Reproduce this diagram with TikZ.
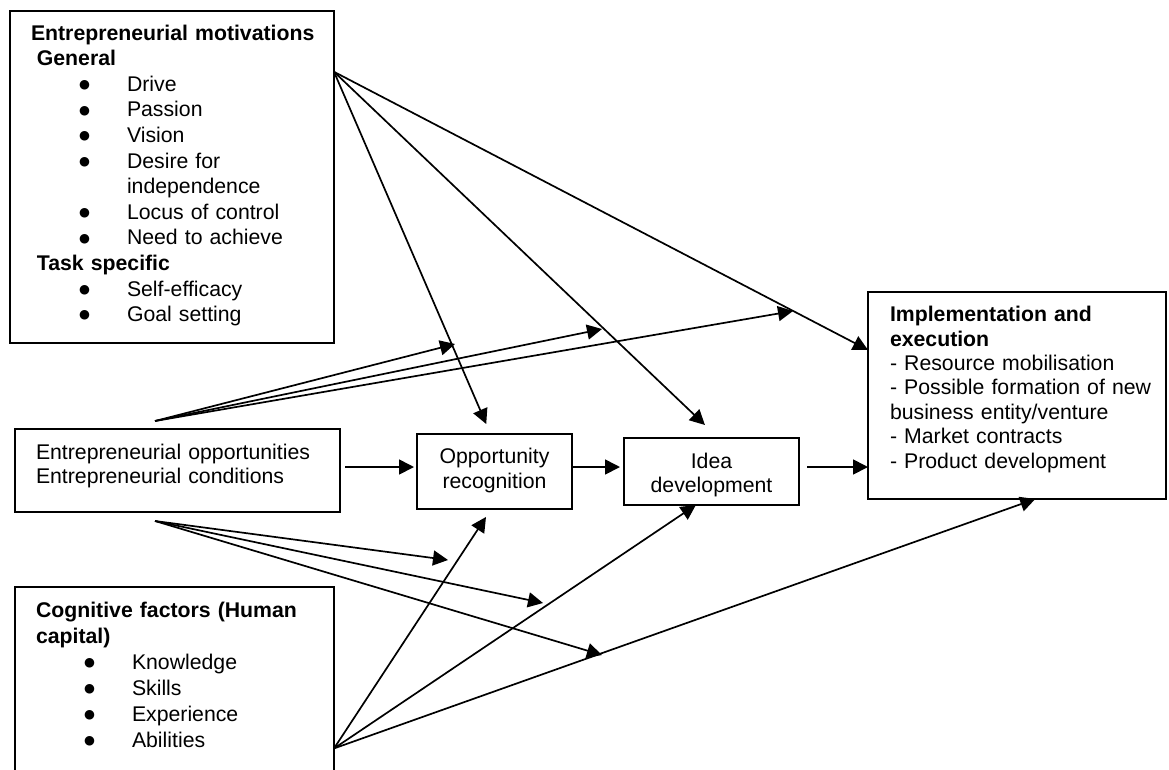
\documentclass[tikz,border=0pt]{standalone}
\usepackage{fontspec}
\setmainfont{Liberation Sans}
\newfontfamily\dotfont{DejaVu Sans}
\usetikzlibrary{arrows.meta}
\newcommand{\itm}[1]{\hspace*{48pt}\makebox[48pt][l]{\raisebox{2.8pt}{\dotfont\fontsize{12.5}{12.5}\selectfont ●}}#1}
\begin{document}
\begin{tikzpicture}[x=1pt,y=-1pt]
        \tikzstyle{every node}+=[inner sep=0pt, outer sep=0pt]
        \tikzstyle{box}=[draw=black, line width=2.2pt, anchor=north west, align=left, inner xsep=21pt, font=\fontsize{21.25}{25.6}\selectfont]
        \tikzstyle{cbox}=[box, align=center, inner xsep=0pt]
        \tikzstyle{arr}=[black, line width=1.7pt, -{Triangle[length=15pt,width=15pt]}]
        \useasboundingbox (0,0) rectangle (1169,769);
        \clip (0,0) rectangle (1169,769);
        % boxes
        \node [box, text width=282pt, text height=29pt, text depth=303pt] (mot) at (10,11) {\mbox{\textbf{Entrepreneurial motivations}}\\
          \hspace*{5.9pt}\textbf{General}\\
          \itm{Drive}\\
          \itm{Passion}\\
          \itm{Vision}\\
          \itm{Desire for}\\
          \hspace*{96pt}independence\\
          \itm{Locus of control}\\
          \itm{Need to achieve}\\
          \hspace*{5.9pt}\textbf{Task specific}\\
          \itm{Self-efficacy}\\
          \itm{Goal setting}};
        \node [box, text width=283pt, text height=30pt, text depth=53pt, font=\fontsize{21.25}{24}\selectfont] (opp) at (15,429) {Entrepreneurial opportunities\\Entrepreneurial conditions};
        \node [box, text width=277pt, text height=30pt, text depth=183pt, font=\fontsize{21.25}{26}\selectfont] (cog) at (15,587) {\makebox[\linewidth][s]{\textbf{Cognitive factors (Human}}\\
          \textbf{capital)}\\
          \itm{Knowledge}\\
          \itm{Skills}\\
          \itm{Experience}\\
          \itm{Abilities}};
        \node [cbox, text width=155pt, text height=29pt, text depth=46pt, font=\fontsize{21.25}{25}\selectfont] (recog) at (417,434) {Opportunity\\recognition};
        \node [cbox, text width=175pt, text height=30pt, text depth=37pt, font=\fontsize{21.25}{24}\selectfont] (idea) at (624,438) {Idea\\development};
        \node [box, inner xsep=22pt, text width=254pt, text height=29.7pt, text depth=177.3pt, font=\fontsize{21.25}{24.4}\selectfont] (impl) at (868,292) {\textbf{Implementation and}\\
          \textbf{execution}\\
          - Resource mobilisation\\
          \mbox{- Possible formation of new}\\
          business entity/venture\\
          - Market contracts\\
          - Product development};
        % free ends
        \coordinate (mid) at (0,467);
        \coordinate (oppup) at (155,421);
        \coordinate (oppdn) at (155,521);
        \coordinate (up1) at (455,344);
        \coordinate (up2) at (602,329);
        \coordinate (up3) at (793,311);
        \coordinate (dn1) at (448,560);
        \coordinate (dn2) at (543,603);
        \coordinate (dn3) at (602,655);
        % main line
        \draw [arr, shorten <=5pt, shorten >=3pt] (opp.east |- mid) -- (recog.west |- mid);
        \draw [arr, shorten <=1pt, shorten >=4pt] (recog.east |- mid) -- (idea.west |- mid);
        \draw [arr, shorten <=8pt] (idea.east |- mid) -- (impl.west |- mid);
        % motivations
        \draw [arr, shorten >=10.9pt] (mot.33) -- (recog.96);
        \draw [arr, shorten >=18.9pt] (mot.33) -- (idea.78);
        \draw [arr] (mot.33) -- (impl.163);
        % cognitive factors
        \draw [arr, shorten >=9.5pt] (cog.-19) -- (recog.265);
        \draw [arr] (cog.-19) -- (idea.245);
        \draw [arr] (cog.-19) -- (impl.-80);
        % opportunities and conditions
        \draw [arr] (oppup) -- (up1);
        \draw [arr] (oppup) -- (up2);
        \draw [arr] (oppup) -- (up3);
        \draw [arr] (oppdn) -- (dn1);
        \draw [arr] (oppdn) -- (dn2);
        \draw [arr] (oppdn) -- (dn3);
\end{tikzpicture}
\end{document}
